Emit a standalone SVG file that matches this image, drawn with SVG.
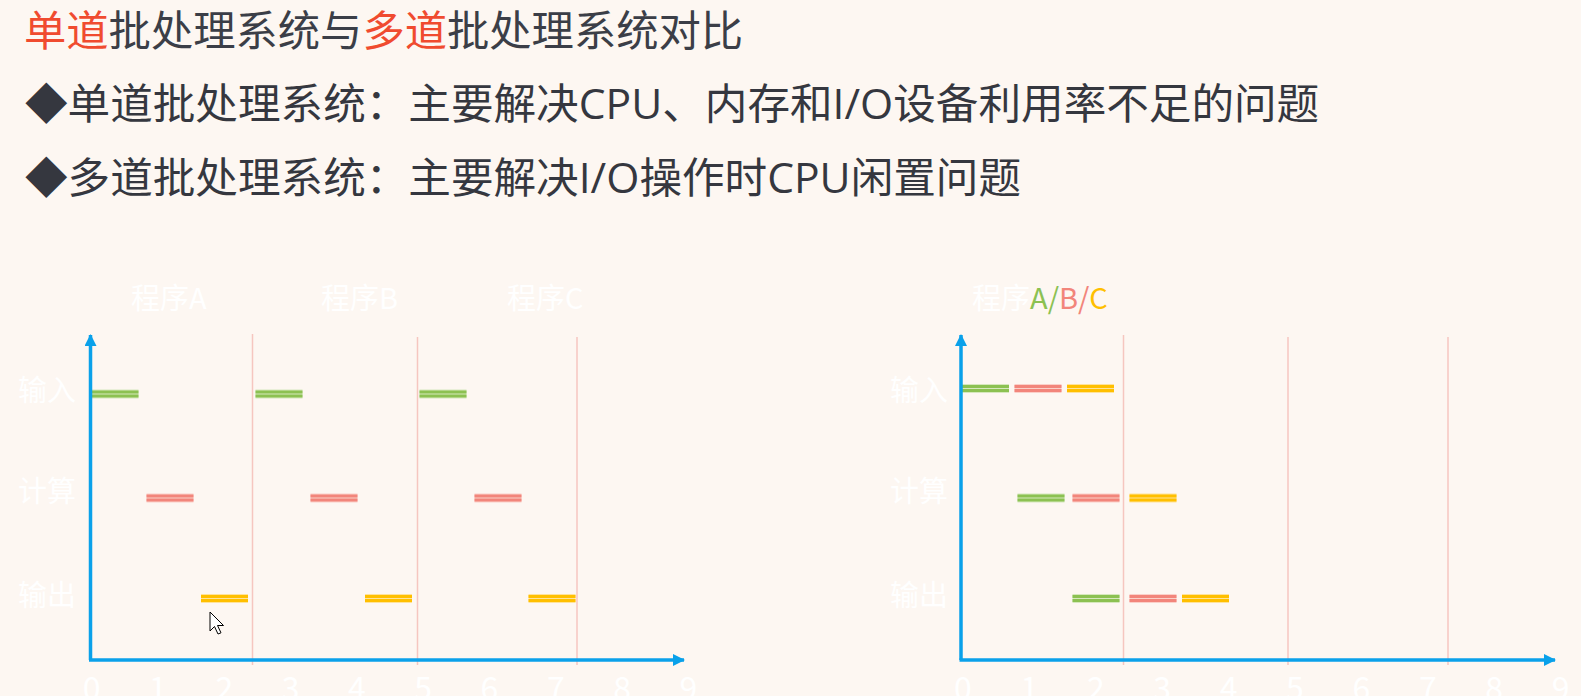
<svg xmlns="http://www.w3.org/2000/svg" xmlns:xlink="http://www.w3.org/1999/xlink" width="1581" height="696" viewBox="0 0 1581 696">
<style>
.cjk{font-family:"Noto Sans CJK SC","Noto Sans",sans-serif}
.lat{font-family:"Open Sans","Noto Sans CJK SC",sans-serif}
.title{font-size:42.3px;fill:#3b3e47}
.red{fill:#f04b2f}
.bullet{font-size:42.6px;fill:#35373f}
.wl{font-size:29px;fill:#ffffff}
.num{font-size:32px;fill:#ffffff;text-anchor:middle}
.axis{stroke:#0aa1ea;stroke-width:3.5;fill:none}
.grid{stroke:#f6c6c0;stroke-width:1.5}
.ga{fill:#8cc152}.ra{fill:#f2857b}.ya{fill:#ffbf00}
</style>
<defs>
<marker id="arr" viewBox="0 0 12 12" refX="11" refY="6" markerWidth="12" markerHeight="12" markerUnits="userSpaceOnUse" orient="auto">
<path d="M0,0 L12,6 L0,12 z" fill="#0aa1ea"/>
</marker>
<g id="bg"><rect width="47" height="9" fill="#d6e8bd"/><rect y="1" width="47" height="3" fill="#8cc152"/><rect y="5" width="47" height="3" fill="#8cc152"/></g>
<g id="br"><rect width="47" height="9" fill="#fbd0c9"/><rect y="1" width="47" height="3" fill="#f2857b"/><rect y="5" width="47" height="3" fill="#f2857b"/></g>
<g id="by"><rect width="47" height="9" fill="#ffe39a"/><rect y="1" width="47" height="3" fill="#ffbf00"/><rect y="5" width="47" height="3" fill="#ffbf00"/></g>
</defs>
<rect width="1581" height="696" fill="#fdf7f2"/>

<g id="title" class="cjk">
<text x="24" y="46" class="title"><tspan class="red">单道</tspan>批处理系统与<tspan class="red">多道</tspan>批处理系统对比</text>
</g>
<g id="bullet1" class="cjk">
<text x="25" y="119" class="bullet">◆单道批处理系统：主要解决<tspan class="lat">CPU</tspan>、内存和<tspan class="lat">I/O</tspan>设备利用率不足的问题</text>
</g>
<g id="bullet2" class="cjk">
<text x="25" y="193" class="bullet">◆多道批处理系统：主要解决<tspan class="lat">I/O</tspan>操作时<tspan class="lat">CPU</tspan>闲置问题</text>
</g>

<g id="chart-single">
<g id="grid-left">
<line class="grid" x1="252.5" y1="334" x2="252.5" y2="665"/>
<line class="grid" x1="417.5" y1="337" x2="417.5" y2="665"/>
<line class="grid" x1="577" y1="337" x2="577" y2="665"/>
</g>
<g id="labels-left" class="cjk">
<text x="131" y="309" class="wl">程序A</text>
<text x="321" y="309" class="wl">程序B</text>
<text x="507" y="309" class="wl">程序C</text>
<text x="18" y="401" class="wl">输入</text>
<text x="18" y="502" class="wl">计算</text>
<text x="18" y="606" class="wl">输出</text>
</g>
<g id="bars-left">
<use href="#bg" x="91.5" y="389.5"/>
<use href="#bg" x="255.5" y="389.5"/>
<use href="#bg" x="419.5" y="389.5"/>
<use href="#br" x="146.5" y="493.5"/>
<use href="#br" x="310.5" y="493.5"/>
<use href="#br" x="474.5" y="493.5"/>
<use href="#by" x="201" y="594"/>
<use href="#by" x="365" y="594"/>
<use href="#by" x="528.5" y="594"/>
</g>
<g id="nums-left" class="cjk">
<text class="num" x="91.7" y="700">0</text>
<text class="num" x="158" y="700">1</text>
<text class="num" x="224.3" y="700">2</text>
<text class="num" x="290.6" y="700">3</text>
<text class="num" x="356.9" y="700">4</text>
<text class="num" x="423.2" y="700">5</text>
<text class="num" x="489.5" y="700">6</text>
<text class="num" x="555.8" y="700">7</text>
<text class="num" x="622.1" y="700">8</text>
<text class="num" x="688.4" y="700">9</text>
</g>
</g>

<g id="chart-multi">
<g id="grid-right">
<line class="grid" x1="1123.5" y1="335" x2="1123.5" y2="665"/>
<line class="grid" x1="1288" y1="337" x2="1288" y2="665"/>
<line class="grid" x1="1448" y1="337" x2="1448" y2="665"/>
</g>
<g id="labels-right" class="cjk">
<text x="972" y="309" class="wl">程序<tspan class="ga">A/</tspan><tspan class="ra">B/</tspan><tspan class="ya">C</tspan></text>
<text x="890" y="401" class="wl">输入</text>
<text x="890" y="502" class="wl">计算</text>
<text x="890" y="606" class="wl">输出</text>
</g>
<g id="bars-right">
<use href="#bg" x="962" y="384"/>
<use href="#br" x="1014.5" y="384"/>
<use href="#by" x="1067" y="384"/>
<use href="#bg" x="1017.5" y="493.5"/>
<use href="#br" x="1072.5" y="493.5"/>
<use href="#by" x="1129.5" y="493.5"/>
<use href="#bg" x="1072.5" y="594"/>
<use href="#br" x="1129.5" y="594"/>
<use href="#by" x="1182" y="594"/>
</g>
<g id="nums-right" class="cjk">
<text class="num" x="963" y="700">0</text>
<text class="num" x="1029.4" y="700">1</text>
<text class="num" x="1095.8" y="700">2</text>
<text class="num" x="1162.2" y="700">3</text>
<text class="num" x="1228.6" y="700">4</text>
<text class="num" x="1295" y="700">5</text>
<text class="num" x="1361.4" y="700">6</text>
<text class="num" x="1427.8" y="700">7</text>
<text class="num" x="1494.2" y="700">8</text>
<text class="num" x="1560.6" y="700">9</text>
</g>
</g>

<g id="connectors">
<path class="axis" d="M90.5,660 L90.5,335" marker-end="url(#arr)"/>
<path class="axis" d="M89,660 L684,660" marker-end="url(#arr)"/>
<path class="axis" d="M961,660 L961,335" marker-end="url(#arr)"/>
<path class="axis" d="M959.5,660 L1555,660" marker-end="url(#arr)"/>
</g>

<g id="cursor">
<path d="M210,612 L210,631 L214.5,626.5 L218,634 L221,632.8 L217.5,625.5 L223.5,625.5 z" fill="#ffffff" stroke="#000000" stroke-width="1" stroke-linejoin="round"/>
</g>
</svg>
